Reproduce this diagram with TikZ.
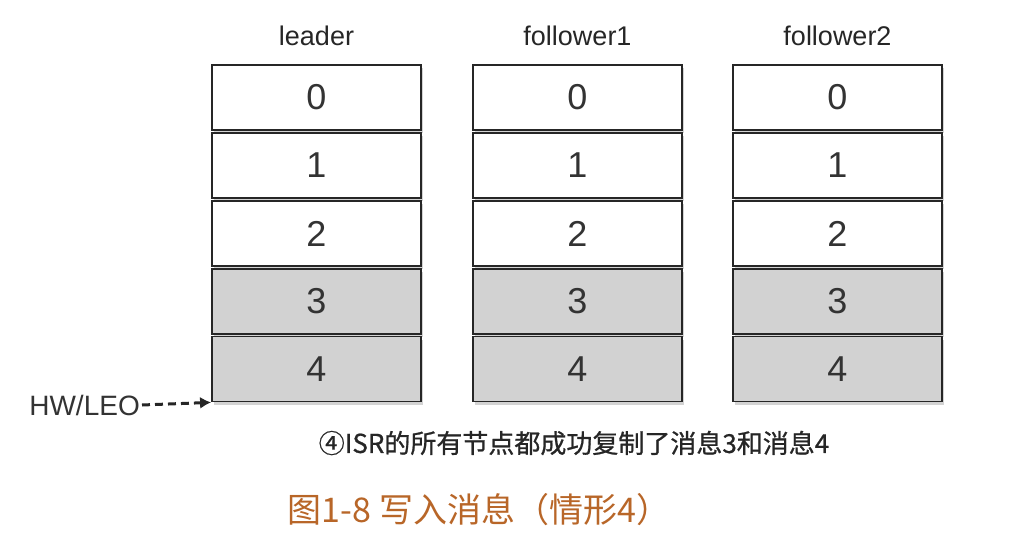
\documentclass[tikz,border=0pt]{standalone}
\usepackage{fontspec}
\setmainfont{Liberation Sans}
\newfontfamily\cjk{Noto Sans CJK SC}
\newfontfamily\cjkm[FakeBold=0.8]{Noto Sans CJK SC}
\usetikzlibrary{shadows,arrows.meta}
\definecolor{cellgray}{RGB}{210,210,210}
\definecolor{capbrown}{RGB}{184,102,40}
\begin{document}
\begin{tikzpicture}[x=1pt,y=-1pt,
  cell/.style={draw=black!85,line width=1.8pt,minimum width=209pt,minimum height=65pt,inner sep=0pt,
    font=\fontsize{36}{36}\selectfont,text=black!80,
    drop shadow={shadow xshift=2pt,shadow yshift=-3pt,opacity=0.35}},
  wcell/.style={cell,fill=white},
  gcell/.style={cell,fill=cellgray},
  title/.style={font=\fontsize{27}{27}\selectfont,text=black!85},
  lbl/.style={font=\fontsize{28}{28}\selectfont,text=black!80}]
\useasboundingbox (0,0) rectangle (1017,537);
\foreach \c/\x/\t in {L/316.5/leader,F/577.5/follower1,G/837.5/follower2}{
  \node[title] (t\c) at (\x,36) {\t};
  \foreach \r/\y in {0/97.5,1/165.5,2/233.5}{
    \node[wcell] (\c\r) at (\x,\y) {\r};
  }
  \foreach \r/\y in {3/301.5,4/369}{
    \node[gcell] (\c\r) at (\x,\y) {\r};
  }
}
\node[lbl,anchor=east,inner sep=0pt] (hw) at (140,405) {HW/LEO};
\coordinate (hws) at ([xshift=2pt]hw.east);
\draw[line width=3pt,dash pattern=on 8pt off 5pt,-{Latex[length=11pt,width=12pt]},black!85]
  (hws) -- (L4.south west);
\node[font=\cjkm\fontsize{26}{26}\selectfont,text=black!85] (cap) at (574,443)
  {④ISR的所有节点都成功复制了消息3和消息4};
\node[font=\cjk\fontsize{34}{34}\selectfont,text=capbrown] (fig) at (479,510)
  {图1-8 写入消息（情形4）};
\end{tikzpicture}
\end{document}
